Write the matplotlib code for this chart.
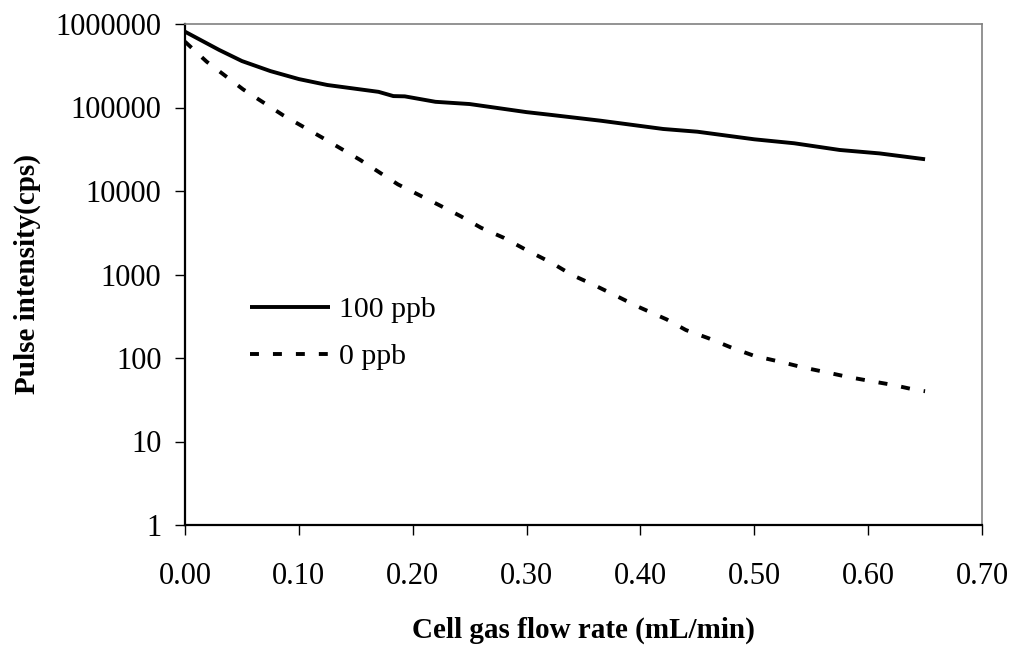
import matplotlib
matplotlib.use("Agg")
import matplotlib.pyplot as plt
from matplotlib.ticker import FixedLocator, FixedFormatter, FuncFormatter

# Cell gas flow rate (mL/min) and pulse intensity (cps) for each solution
flow_100ppb = [0.000, 0.030, 0.050, 0.075, 0.100, 0.125, 0.170, 0.183, 0.193,
               0.220, 0.250, 0.300, 0.320, 0.365, 0.420, 0.450, 0.500, 0.535,
               0.575, 0.610, 0.650]
cps_100ppb = [809000, 489000, 360000, 273000, 219000, 186000, 154000, 137000,
              136000, 117000, 110000, 88000, 82000, 69500, 55300, 51300,
              41600, 37300, 31000, 28200, 24000]

flow_0ppb = [0.000, 0.019, 0.051, 0.086, 0.120, 0.154, 0.187, 0.223, 0.242,
             0.260, 0.280, 0.300, 0.322, 0.340, 0.358, 0.376, 0.398, 0.423,
             0.440, 0.460, 0.480, 0.500, 0.523, 0.543, 0.562, 0.583, 0.602,
             0.622, 0.642, 0.650]
cps_0ppb = [614000, 354000, 165000, 81000, 44000, 23500, 12000, 6800, 5000,
            3630, 2750, 1960, 1380, 986, 763, 579, 411, 290, 216, 172, 133,
            106, 90, 77, 68, 59, 53, 47.5, 41.4, 40]

series_labels = ["100 ppb", "0 ppb"]
x_ticks = [0.0, 0.1, 0.2, 0.3, 0.4, 0.5, 0.6, 0.7]
y_ticks = [1, 10, 100, 1000, 10000, 100000, 1000000]

plt.rcParams["font.family"] = ["Liberation Serif", "DejaVu Serif"]

fig = plt.figure(figsize=(10.13, 6.46), dpi=100)
ax = fig.add_axes([185 / 1013, 1 - 525 / 646, (982 - 185) / 1013, (525 - 24) / 646])

ax.plot(flow_100ppb, cps_100ppb, color="black", lw=2.8,
        solid_capstyle="butt", label=series_labels[0])
ax.plot(flow_0ppb, cps_0ppb, color="black", lw=2.8,
        linestyle=(0, (2.3, 3.6)), dash_capstyle="butt", label=series_labels[1])

ax.set_yscale("log")
ax.set_xlim(0, 0.7)
ax.set_ylim(1, 1000000)

ax.xaxis.set_major_locator(FixedLocator(x_ticks))
ax.xaxis.set_major_formatter(FuncFormatter(lambda v, p: f"{v:.2f}"))
ax.yaxis.set_major_locator(FixedLocator(y_ticks))
ax.yaxis.set_major_formatter(FixedFormatter([str(v) for v in y_ticks]))
ax.yaxis.set_minor_locator(FixedLocator([]))

ax.tick_params(axis="both", which="major", direction="out", length=7,
               width=1.0, colors="black", labelsize=22)
ax.tick_params(axis="x", pad=20)
ax.tick_params(axis="y", pad=10)

for side in ("left", "bottom"):
    ax.spines[side].set_color("black")
    ax.spines[side].set_linewidth(1.6)
for side in ("top", "right"):
    ax.spines[side].set_color("#808080")
    ax.spines[side].set_linewidth(1.2)

ax.set_xlabel("Cell gas flow rate (mL/min)", fontsize=21, fontweight="bold",
              labelpad=18)
ax.set_ylabel("Pulse intensity(cps)", fontsize=21, fontweight="bold",
              labelpad=10.5)

ax.legend(loc="upper left", bbox_to_anchor=(0.066, 0.48), frameon=False,
          fontsize=21.5, handlelength=2.7, handletextpad=0.28,
          labelspacing=0.66, borderaxespad=0)

fig.savefig("out.png", dpi=100)
